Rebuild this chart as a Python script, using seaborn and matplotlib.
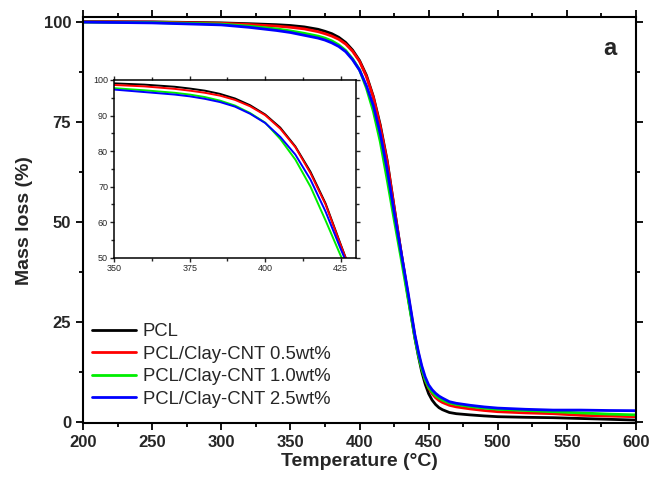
import numpy as np
import pandas as pd
import seaborn as sns
import matplotlib.pyplot as plt
from matplotlib.ticker import MultipleLocator

sns.set_style('ticks')
plt.rcParams['font.family'] = ['Liberation Sans', 'DejaVu Sans']

# temperature grid (°C) and mass (%)
temp = [200, 250, 300, 320, 340, 350, 360, 370, 375, 380, 385, 390, 395, 400, 405, 410, 415, 420,
        425, 430, 435, 440, 442.5, 445, 447.5, 450, 452.5, 455, 457.5, 460, 465, 470, 480, 490, 500,
        520, 540, 560, 580, 600]

pcl = [100.0, 99.95, 99.7, 99.5, 99.25, 99.05, 98.7, 98.1, 97.6, 97.0, 96.1, 94.8, 92.9, 90.3, 86.6, 81.3, 74.2, 65.3,
       53.8, 42.5, 31.5, 21.0, 16.5, 12.5, 9.4, 7.0, 5.4, 4.3, 3.5, 3.0, 2.3, 2.0, 1.7, 1.45, 1.25,
       1.1, 1.0, 0.8, 0.6, 0.4]
clay05 = [100.0, 99.9, 99.6, 99.3, 98.9, 98.6, 98.2, 97.5, 97.0, 96.4, 95.6, 94.4, 92.6, 90.1, 86.3, 81.1, 73.8, 65.0,
          53.6, 42.5, 32.0, 21.5, 17.2, 13.5, 10.5, 8.4, 7.0, 6.0, 5.3, 4.8, 4.1, 3.7, 3.2, 2.8, 2.5,
          2.2, 2.0, 1.6, 1.4, 1.25]
clay10 = [99.9, 99.8, 99.4, 98.9, 98.2, 97.7, 97.1, 96.4, 95.9, 95.2, 94.2, 92.8, 90.7, 88.0, 83.4, 77.6, 70.0, 60.5,
          50.6, 41.0, 31.0, 21.0, 16.8, 13.2, 10.5, 8.6, 7.4, 6.5, 5.9, 5.4, 4.7, 4.3, 3.8, 3.4, 3.1,
          2.8, 2.5, 2.2, 1.9, 1.7]
clay25 = [99.9, 99.7, 99.2, 98.6, 97.8, 97.3, 96.6, 95.9, 95.4, 94.7, 93.8, 92.5, 90.5, 87.9, 84.0, 79.0, 72.0, 63.0,
          52.5, 42.5, 32.5, 21.8, 17.6, 14.0, 11.2, 9.2, 8.0, 7.1, 6.4, 5.9, 5.0, 4.6, 4.1, 3.7, 3.4,
          3.1, 2.9, 2.9, 2.8, 2.75]

labels = ['PCL', 'PCL/Clay-CNT 0.5wt%', 'PCL/Clay-CNT 1.0wt%', 'PCL/Clay-CNT 2.5wt%']
colors = ['black', 'red', '#00ee00', 'blue']

df = pd.concat([pd.DataFrame({'T': temp, 'mass': m, 'sample': l})
                for m, l in zip([pcl, clay05, clay10, clay25], labels)])

fig = plt.figure(figsize=(6.51, 4.79), dpi=100)
ax = fig.add_axes([0.1275, 0.1163, 0.8495, 0.8476])
sns.lineplot(data=df, x='T', y='mass', hue='sample', palette=colors, linewidth=2, ax=ax)

ax.set_xlim(200, 600)
ax.set_ylim(-0.4, 101.1)
ax.xaxis.set_major_locator(MultipleLocator(50))
ax.xaxis.set_minor_locator(MultipleLocator(25))
ax.yaxis.set_major_locator(MultipleLocator(25))
ax.yaxis.set_minor_locator(MultipleLocator(12.5))
ax.tick_params(which='both', direction='out', top=True, right=True, width=1.3, color='black')
ax.tick_params(which='major', length=5)
ax.tick_params(which='minor', length=3)
ax.tick_params(labelsize=12)
for t in ax.get_xticklabels() + ax.get_yticklabels():
    t.set_fontweight('bold')
for s in ax.spines.values():
    s.set_linewidth(1.5)
    s.set_color('black')
ax.set_xlabel('Temperature (°C)', fontsize=14, fontweight='bold', labelpad=2)
ax.set_ylabel('Mass loss (%)', fontsize=14, fontweight='bold', labelpad=8)
ax.text(0.953, 0.922, 'a', transform=ax.transAxes, ha='center', va='center',
        fontsize=17, fontweight='bold')
ax.legend(loc='lower left', bbox_to_anchor=(0.003, 0.02), frameon=False, fontsize=13.3,
          handlelength=2.4, handletextpad=0.35, labelspacing=0.3, borderaxespad=0)

# inset zoom
ins = fig.add_axes([0.1756, 0.462, 0.3708, 0.371])
sns.lineplot(data=df, x='T', y='mass', hue='sample', palette=colors, linewidth=1.4,
             ax=ins, legend=False)
ins.set_xlim(350, 430)
ins.set_ylim(50, 100)
ins.xaxis.set_major_locator(MultipleLocator(25))
ins.xaxis.set_minor_locator(MultipleLocator(12.5))
ins.yaxis.set_major_locator(MultipleLocator(10))
ins.yaxis.set_minor_locator(MultipleLocator(5))
ins.tick_params(which='both', direction='out', top=True, right=True, width=1, labelsize=6.5, pad=1.5)
ins.tick_params(which='major', length=3)
ins.tick_params(which='minor', length=2)
ins.set_xlabel('')
ins.set_ylabel('')
for s in ins.spines.values():
    s.set_linewidth(1.1)
    s.set_color('black')

fig.savefig('out.png', dpi=100)
